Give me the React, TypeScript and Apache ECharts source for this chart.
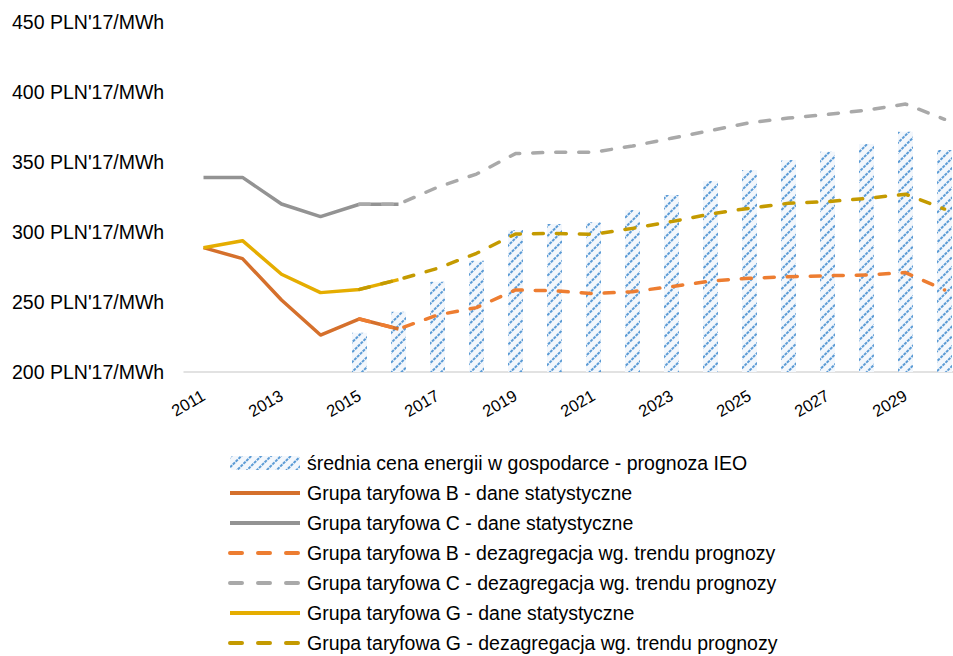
import React, { useEffect, useRef } from "react";
import * as echarts from "echarts";

const years = ["2011","2012","2013","2014","2015","2016","2017","2018","2019","2020","2021","2022","2023","2024","2025","2026","2027","2028","2029","2030"];
const yTicks = [200, 250, 300, 350, 400, 450];
const unit = " PLN'17/MWh";

const avgPrice = [null,null,null,null,228,243,264.5,279.5,301.4,305.7,307,315.7,326.4,336.5,344.3,351.4,357.4,362.9,371.6,358.6];
const bStat = [288.8,281,251.4,226.4,237.9,230.7,null,null,null,null,null,null,null,null,null,null,null,null,null,null];
const cStat = [339,339,320,311,319.8,319.8,null,null,null,null,null,null,null,null,null,null,null,null,null,null];
const gStat = [288.8,293.8,269.8,256.7,259,266,null,null,null,null,null,null,null,null,null,null,null,null,null,null];
const bTrend = [null,null,null,null,237.9,230.7,240.7,246,258.6,258,256,257.4,261,265,267,268,268.8,269.3,271,258.6];
const cTrend = [null,null,null,null,319.8,319.8,332,341.4,356,357,357,361.4,367,372.4,378,381.4,384,387,391.4,380.5];
const gTrend = [null,null,null,null,259,266,274,284.8,298.6,299,298.3,302.6,307.4,312.9,317,320.5,321.7,324,327,316.4];

const names = [
  "średnia cena energii w gospodarce - prognoza IEO",
  "Grupa taryfowa B - dane statystyczne",
  "Grupa taryfowa C - dane statystyczne",
  "Grupa taryfowa B - dezagregacja wg. trendu prognozy",
  "Grupa taryfowa C - dezagregacja wg. trendu prognozy",
  "Grupa taryfowa G - dane statystyczne",
  "Grupa taryfowa G - dezagregacja wg. trendu prognozy",
];
const dashedNames = [names[3], names[4], names[6]];

const FONT = "'Liberation Sans', Arial, sans-serif";
const DASH = [10, 13];

function lineSeries(name: string, data: (number | null)[], color: string, dashed: boolean, z: number) {
  return {
    name,
    type: "line",
    data,
    symbol: "none",
    z,
    connectNulls: false,
    lineStyle: { color, width: 3.5, type: dashed ? DASH : "solid", cap: dashed ? "round" : "butt", join: "round" },
    itemStyle: { color },
  };
}

export default function App() {
  const ref = useRef<HTMLDivElement>(null);
  useEffect(() => {
    if (!ref.current) return;
    const chart = echarts.init(ref.current, undefined, { renderer: "svg" });
    chart.setOption({
      animation: false,
      backgroundColor: "#fff",
      textStyle: { fontFamily: FONT },
      grid: { left: 184, top: 22, width: 780, height: 350, outerBoundsMode: "none", containLabel: false },
      legend: {
        orient: "vertical",
        left: 228,
        top: 453,
        padding: 0,
        itemWidth: 70,
        itemHeight: 14,
        itemGap: 10,
        lineStyle: { width: 4 },
        data: names.map((n, i) =>
          i === 0
            ? { name: n }
            : dashedNames.includes(n)
            ? { name: n, itemStyle: { opacity: 0 }, lineStyle: { width: 4, type: [12, 16], cap: "round" } }
            : { name: n, itemStyle: { opacity: 0 } }
        ),
        textStyle: { fontSize: 19.5, color: "#000", fontFamily: FONT, padding: [0, 0, 0, 2] },
      },
      xAxis: {
        type: "category",
        data: years,
        boundaryGap: true,
        axisLine: { lineStyle: { color: "#d9d9d9", width: 1.5 } },
        axisTick: { show: false },
        axisLabel: { interval: 1, rotate: 30, fontSize: 16.5, color: "#000", margin: 22, fontFamily: FONT },
        splitLine: { show: false },
      },
      yAxis: {
        type: "value",
        min: yTicks[0],
        max: yTicks[yTicks.length - 1],
        interval: 50,
        axisLine: { show: false },
        axisTick: { show: false },
        splitLine: { show: false },
        axisLabel: {
          formatter: (v: number) => `${v}${unit}`,
          align: "left",
          margin: 172,
          fontSize: 19.5,
          color: "#000",
          fontFamily: FONT,
        },
      },
      series: [
        {
          name: names[0],
          type: "bar",
          data: avgPrice,
          barWidth: 15,
          z: 1,
          itemStyle: {
            color: "#f3f7fc",
            decal: {
              symbol: "rect",
              symbolSize: 1,
              dashArrayX: [[3, 1]],
              dashArrayY: [1.5, 4.5],
              rotation: -Math.PI / 4,
              color: "#5b9bd5",
            },
          },
        },
        lineSeries(names[1], bStat, "#d5702c", false, 3),
        lineSeries(names[2], cStat, "#939393", false, 3),
        lineSeries(names[3], bTrend, "#ed7d31", true, 4),
        lineSeries(names[4], cTrend, "#a9a9a9", true, 4),
        lineSeries(names[5], gStat, "#e5ad00", false, 3),
        lineSeries(names[6], gTrend, "#c49a00", true, 4),
      ],
    });
    return () => chart.dispose();
  }, []);
  return <div ref={ref} style={{ position: "absolute", left: 0, top: 0, width: 953, height: 656 }} />;
}
